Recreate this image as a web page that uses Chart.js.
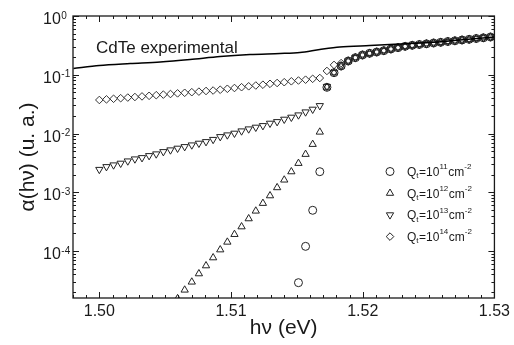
<!DOCTYPE html>
<html>
<head>
<meta charset="utf-8">
<script src="https://cdn.jsdelivr.net/npm/chart.js@4.4.0/dist/chart.umd.min.js"></script>
<style>
  html, body { margin: 0; padding: 0; background: #fff; }
  #wrap { width: 514px; height: 345px; }
</style>
</head>
<body>
<div id="wrap"><canvas id="alphaChart" width="514" height="345"></canvas></div>
<script>
// experimental absorption curve
const expEnergy = [1.49803, 1.50000, 1.50235, 1.50462, 1.50689, 1.50917, 1.51144, 1.51371,
  1.51523, 1.51674, 1.51826, 1.52053, 1.52280, 1.52508, 1.52735, 1.53000];
const expAlpha = [0.128, 0.144, 0.155, 0.165, 0.182, 0.205, 0.221, 0.230,
  0.239, 0.269, 0.297, 0.315, 0.334, 0.354, 0.390, 0.439];

// photon energies of the simulated points (eV)
const energy = [1.50000, 1.50054, 1.50108, 1.50162, 1.50216, 1.50270, 1.50324, 1.50378,
  1.50432, 1.50486, 1.50540, 1.50594, 1.50648, 1.50702, 1.50756, 1.50810,
  1.50864, 1.50918, 1.50972, 1.51026, 1.51080, 1.51134, 1.51188, 1.51242,
  1.51296, 1.51350, 1.51404, 1.51458, 1.51512, 1.51566, 1.51620, 1.51674,
  1.51728, 1.51782, 1.51836, 1.51890, 1.51944, 1.51998, 1.52052, 1.52106,
  1.52160, 1.52214, 1.52268, 1.52322, 1.52376, 1.52430, 1.52484, 1.52538,
  1.52592, 1.52646, 1.52700, 1.52754, 1.52808, 1.52862, 1.52916, 1.52970];

const q11 = [null, null, null, null, null, null, null, null,
  null, null, null, null, null, null, null, null,
  null, null, null, null, null, null, null, null,
  null, null, null, null, 2.89e-5, 1.20e-4, 4.93e-4, 2.24e-3,
  0.0611, 0.1084, 0.1409, 0.1714, 0.1951, 0.2169, 0.2318, 0.2439,
  0.2566, 0.2744, 0.2887, 0.3050, 0.3172, 0.3273, 0.3364, 0.3471,
  0.3567, 0.3681, 0.3783, 0.3904, 0.4012, 0.4140, 0.4255, 0.4391];

const q12 = [null, null, null, null, null, null, null, null,
  null, null, null, 1.55e-5, 2.17e-5, 2.97e-5, 4.11e-5, 5.62e-5,
  7.69e-5, 1.05e-4, 1.42e-4, 1.92e-4, 2.59e-4, 3.55e-4, 4.80e-4, 6.49e-4,
  8.74e-4, 1.20e-3, 1.62e-3, 2.24e-3, 3.11e-3, 4.43e-3, 6.55e-3, 1.06e-2,
  0.0615, 0.1084, 0.1409, 0.1714, 0.1951, 0.2169, 0.2318, 0.2439,
  0.2566, 0.2744, 0.2887, 0.3050, 0.3172, 0.3273, 0.3364, 0.3471,
  0.3567, 0.3681, 0.3783, 0.3904, 0.4012, 0.4140, 0.4255, 0.4391];

const q13 = [0.00244, 0.00272, 0.00291, 0.00311, 0.00340, 0.00368, 0.00387, 0.00419,
  0.00448, 0.00490, 0.00524, 0.00560, 0.00596, 0.00637, 0.00681, 0.00725,
  0.00790, 0.00882, 0.00943, 0.01008, 0.01103, 0.01193, 0.01275, 0.01358,
  0.01491, 0.01588, 0.01745, 0.01887, 0.02065, 0.02323, 0.02582, 0.02973,
  0.0630, 0.1084, 0.1409, 0.1714, 0.1951, 0.2169, 0.2318, 0.2439,
  0.2566, 0.2744, 0.2887, 0.3050, 0.3172, 0.3273, 0.3364, 0.3471,
  0.3567, 0.3681, 0.3783, 0.3904, 0.4012, 0.4140, 0.4255, 0.4391];

const q14 = [0.0372, 0.0381, 0.0390, 0.0399, 0.0409, 0.0418, 0.0428, 0.0438,
  0.0449, 0.0459, 0.0470, 0.0482, 0.0493, 0.0505, 0.0516, 0.0529,
  0.0539, 0.0556, 0.0577, 0.0595, 0.0614, 0.0636, 0.0656, 0.0677,
  0.0701, 0.0724, 0.0747, 0.0774, 0.0798, 0.0824, 0.0853, 0.0880,
  0.116, 0.147, 0.158, 0.1714, 0.1951, 0.2169, 0.2318, 0.2439,
  0.2566, 0.2744, 0.2887, 0.3050, 0.3172, 0.3273, 0.3364, 0.3471,
  0.3567, 0.3681, 0.3783, 0.3904, 0.4012, 0.4140, 0.4255, 0.4391];

const qExponents = ['11', '12', '13', '14'];
const xTicks = [1.50, 1.51, 1.52, 1.53];
const yDecades = [0, -1, -2, -3, -4];

const FONT = "'Liberation Sans', Arial, Helvetica, sans-serif";
const INK = '#1a1a1a';

function toPoints(xs, ys) {
  return xs.map((x, i) => ({ x: x, y: ys[i] }));
}

// frame, inward ticks, 10^n labels, legend and curve label
const decorations = {
  id: 'decorations',
  afterDraw(chart) {
    const { ctx, chartArea: a, scales: { x, y } } = chart;
    ctx.save();
    ctx.strokeStyle = INK;
    ctx.lineWidth = 1;
    ctx.beginPath();
    for (let i = 1498; i <= 1530; i++) {
      const px = Math.round(x.getPixelForValue(i / 1000)) + 0.5;
      const len = i % 10 === 0 ? 6 : 3;
      ctx.moveTo(px, a.bottom); ctx.lineTo(px, a.bottom - len);
      ctx.moveTo(px, a.top); ctx.lineTo(px, a.top + len);
    }
    for (let e = -5; e <= 0; e++) {
      for (let m = 1; m <= 9; m++) {
        const v = m * Math.pow(10, e);
        if (v < y.min * 0.999 || v > y.max * 1.001) continue;
        const py = Math.round(y.getPixelForValue(v)) + 0.5;
        const len = m === 1 ? 6 : 3;
        ctx.moveTo(a.left, py); ctx.lineTo(a.left + len, py);
        ctx.moveTo(a.right, py); ctx.lineTo(a.right - len, py);
      }
    }
    ctx.stroke();
    ctx.lineWidth = 1.3;
    ctx.strokeRect(a.left, a.top, a.right - a.left, a.bottom - a.top);

    ctx.fillStyle = INK;
    ctx.textAlign = 'left';
    ctx.textBaseline = 'alphabetic';
    yDecades.forEach(e => {
      const py = y.getPixelForValue(Math.pow(10, e));
      ctx.font = '16px ' + FONT;
      ctx.fillText('10', 43, py + 8);
      const w = ctx.measureText('10').width;
      ctx.font = '10px ' + FONT;
      ctx.fillText(String(e), 43 + w + 0.5, py + 2.5);
    });

    ctx.font = '17px ' + FONT;
    ctx.fillText('CdTe experimental', 96, 52.5);

    qExponents.forEach((exp, i) => {
      const cy = 171.5 + i * 21.7;
      const ds = chart.data.datasets[i + 1];
      ctx.fillStyle = 'rgba(0,0,0,0)';
      ctx.strokeStyle = '#222';
      ctx.lineWidth = 1;
      Chart.helpers.drawPoint(ctx, {
        pointStyle: ds.pointStyle,
        rotation: ds.pointRotation || 0,
        radius: ds.pointRadius,
        borderWidth: 1
      }, 390, cy);

      ctx.fillStyle = INK;
      const base = cy + 4.3;
      const parts = [['Q', 0], ['t', -1], ['=10', 0], [exp, 1], ['cm', 0], ['-2', 1]];
      let tx = 407;
      parts.forEach(([txt, lvl]) => {
        ctx.font = (lvl === 0 ? '12px ' : '8px ') + FONT;
        const by = lvl === 0 ? base : (lvl > 0 ? base - 6.5 : base + 2.5);
        ctx.fillText(txt, tx, by);
        tx += ctx.measureText(txt).width + (lvl === 0 ? 0 : 0.5);
      });
    });
    ctx.restore();
  }
};

const markerBase = {
  type: 'scatter',
  showLine: false,
  borderColor: '#222',
  backgroundColor: 'rgba(0,0,0,0)',
  borderWidth: 1,
  pointBorderWidth: 1,
  pointHoverRadius: 4
};

new Chart(document.getElementById('alphaChart').getContext('2d'), {
  type: 'scatter',
  data: {
    datasets: [
      {
        label: 'CdTe experimental',
        data: toPoints(expEnergy, expAlpha),
        showLine: true,
        borderColor: '#000',
        borderWidth: 1.5,
        pointRadius: 0,
        tension: 0.3
      },
      Object.assign({}, markerBase, { label: 'Qt=1e11', data: toPoints(energy, q11), pointStyle: 'circle', pointRadius: 4 }),
      Object.assign({}, markerBase, { label: 'Qt=1e12', data: toPoints(energy, q12), pointStyle: 'triangle', pointRadius: 4.2 }),
      Object.assign({}, markerBase, { label: 'Qt=1e13', data: toPoints(energy, q13), pointStyle: 'triangle', pointRotation: 180, pointRadius: 4.2 }),
      Object.assign({}, markerBase, { label: 'Qt=1e14', data: toPoints(energy, q14), pointStyle: 'rectRot', pointRadius: 3.8, borderColor: '#333' })
    ]
  },
  options: {
    responsive: false,
    devicePixelRatio: 1,
    animation: false,
    layout: { padding: { top: 16, right: 19, left: 0, bottom: 0 } },
    plugins: {
      legend: { display: false },
      tooltip: { enabled: false }
    },
    scales: {
      x: {
        type: 'linear',
        min: 1.498,
        max: 1.53,
        grid: { display: false, drawTicks: false },
        border: { display: false },
        afterBuildTicks: s => { s.ticks = xTicks.map(v => ({ value: v })); },
        afterFit: s => { s.height = 47; },
        ticks: {
          color: INK,
          padding: 4,
          maxRotation: 0,
          font: { family: FONT, size: 16 },
          callback: v => Number(v).toFixed(2)
        },
        title: {
          display: true,
          text: 'hν (eV)',
          color: INK,
          font: { family: FONT, size: 21 },
          padding: { top: 0, bottom: 4.4 }
        }
      },
      y: {
        type: 'logarithmic',
        min: 1.585e-5,
        max: 1,
        grid: { display: false, drawTicks: false },
        border: { display: false },
        ticks: { display: false },
        afterFit: s => { s.width = 73; },
        title: {
          display: true,
          text: 'α(hν) (u. a.)',
          color: INK,
          font: { family: FONT, size: 21 },
          padding: { top: 15.4, bottom: 0 }
        }
      }
    }
  },
  plugins: [decorations]
});
</script>
</body>
</html>
